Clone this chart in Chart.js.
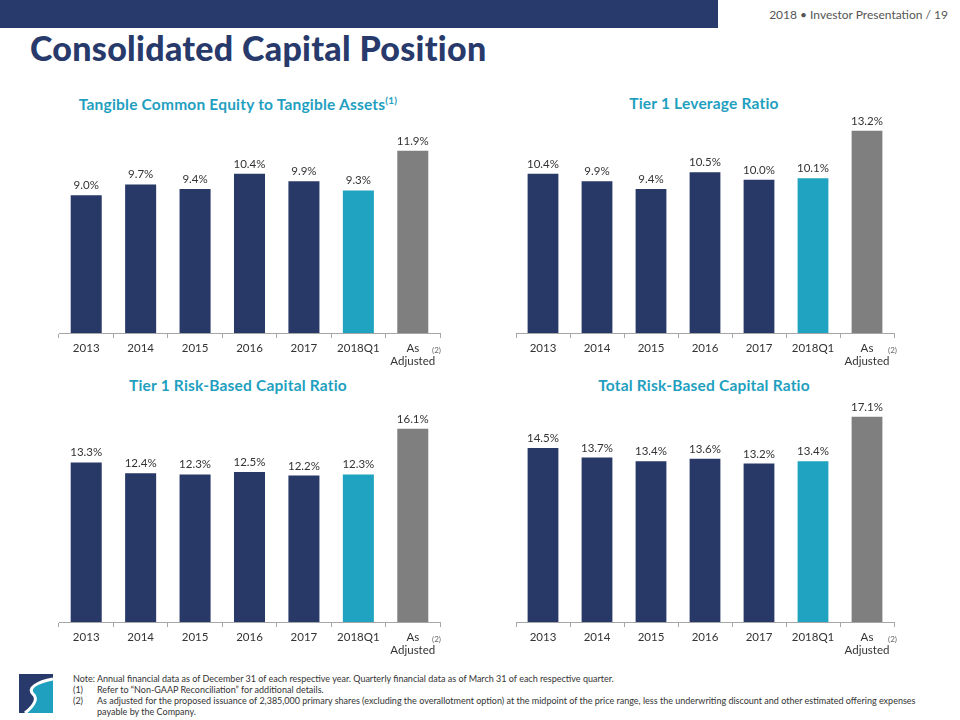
<!DOCTYPE html>
<html>
<head>
<meta charset="utf-8">
<script src="https://cdn.jsdelivr.net/npm/chart.js@4.4.1/dist/chart.umd.min.js"></script>
<style>
  body { margin: 0; background: #fff; font-family: 'Lato', 'Noto Sans', sans-serif; }
  #page { position: relative; width: 960px; height: 720px; overflow: hidden; }
  .abs { position: absolute; }
  #topbar { left: 0; top: 0; width: 718px; height: 28px; background: #283a6b; }
  #pagenum { right: 12px; top: 7px; font-size: 12px; color: #555; }
  #title { left: 30px; top: 27px; font-size: 34px; font-weight: 900; color: #283a6b; letter-spacing: 0.3px; }
  .ctitle { font-size: 15.5px; font-weight: 700; color: #1fa0bf; text-align: center; width: 420px; letter-spacing: 0.2px; }
  .ctitle sup { font-size: 10px; }
  .box { position: absolute; }
  .note2 { font-size: 8px; color: #666; }
  #notes { left: 73px; top: 673px; font-size: 9px; color: #333; line-height: 11px; }
  #notes .n { display: inline-block; width: 24px; }
  #notes .ind { padding-left: 24px; }
</style>
</head>
<body>
<div id="page">
  <div id="topbar" class="abs"></div>
  <div id="pagenum" class="abs">2018 &bull; Investor Presentation / 19</div>
  <div id="title" class="abs">Consolidated Capital Position</div>

  <div class="abs ctitle" style="left:28px; top:94px;">Tangible Common Equity to Tangible Assets<sup>(1)</sup></div>
  <div class="abs ctitle" style="left:494px; top:94px;">Tier 1 Leverage Ratio</div>
  <div class="abs ctitle" style="left:28px; top:376px;">Tier 1 Risk-Based Capital Ratio</div>
  <div class="abs ctitle" style="left:494px; top:376px;">Total Risk-Based Capital Ratio</div>

  <div class="box" style="left:40px; top:100px; width:410px; height:270px;"><canvas id="tce-chart"></canvas></div>
  <div class="box" style="left:497px; top:100px; width:410px; height:270px;"><canvas id="lev-chart"></canvas></div>
  <div class="box" style="left:40px; top:395px; width:410px; height:264px;"><canvas id="t1rb-chart"></canvas></div>
  <div class="box" style="left:497px; top:395px; width:410px; height:264px;"><canvas id="trb-chart"></canvas></div>

  <div class="abs note2" style="left:432px; top:345px;">(2)</div>
  <div class="abs note2" style="left:888px; top:345px;">(2)</div>
  <div class="abs note2" style="left:432px; top:634px;">(2)</div>
  <div class="abs note2" style="left:888px; top:634px;">(2)</div>

  <!-- logo -->
  <svg class="abs" style="left:19px; top:674px;" width="34" height="39" viewBox="0 0 34 39">
    <rect x="0" y="0" width="34" height="39" fill="#283a6b"/>
    <path d="M34 5 C18 8 8 14 14 20 C19 24 16 31 6 39 L34 39 Z" fill="#1fa0bf"/>
    <path d="M34 5 C18 8 8 14 14 20 C19 24 16 31 6 39" fill="none" stroke="#fff" stroke-width="3"/>
  </svg>

  <div id="notes" class="abs">
    <div>Note: Annual financial data as of December 31 of each respective year. Quarterly financial data as of March 31 of each respective quarter.</div>
    <div><span class="n">(1)</span>Refer to &ldquo;Non-GAAP Reconciliation&rdquo; for additional details.</div>
    <div><span class="n">(2)</span>As adjusted for the proposed issuance of 2,385,000 primary shares (excluding the overallotment option) at the midpoint of the price range, less the underwriting discount and other estimated offering expenses</div>
    <div class="ind">payable by the Company.</div>
  </div>
</div>

<script>
const periods = ['2013', '2014', '2015', '2016', '2017', '2018Q1', ['As', 'Adjusted']];
const tceRatio = [9.0, 9.7, 9.4, 10.4, 9.9, 9.3, 11.9];
const tier1Leverage = [10.4, 9.9, 9.4, 10.5, 10.0, 10.1, 13.2];
const tier1RiskBased = [13.3, 12.4, 12.3, 12.5, 12.2, 12.3, 16.1];
const totalRiskBased = [14.5, 13.7, 13.4, 13.6, 13.2, 13.4, 17.1];

const NAVY = '#283867', TEAL = '#1fa3c0', GRAY = '#7f7f7f';
const barColors = [NAVY, NAVY, NAVY, NAVY, NAVY, TEAL, GRAY];

// value labels above each bar
const valueLabels = {
    id: 'valueLabels',
    afterDatasetsDraw(chart) {
        const ctx = chart.ctx;
        const ds = chart.data.datasets[0];
        chart.getDatasetMeta(0).data.forEach((bar, i) => {
            ctx.save();
            ctx.font = '11.5px Lato, "Noto Sans", sans-serif';
            ctx.fillStyle = '#333';
            ctx.textAlign = 'center';
            ctx.textBaseline = 'bottom';
            ctx.fillText(ds.data[i].toFixed(1) + '%', bar.x, bar.y - 4);
            ctx.restore();
        });
    }
};

function renderBarChart(id, values, yMax, padTop, padRight) {
    const ctx = document.getElementById(id).getContext('2d');
    return new Chart(ctx, {
        type: 'bar',
        data: {
            labels: periods,
            datasets: [{ data: values, backgroundColor: barColors, barPercentage: 0.57, categoryPercentage: 1 }]
        },
        options: {
            responsive: true,
            maintainAspectRatio: false,
            animation: false,
            layout: { padding: { top: padTop, left: 19, right: padRight, bottom: 0 } },
            plugins: { legend: { display: false }, tooltip: { enabled: false } },
            scales: {
                x: {
                    grid: { display: true, drawOnChartArea: false, drawTicks: true, tickLength: 5, color: '#a6a6a6' },
                    border: { display: true, color: '#a6a6a6', width: 1 },
                    ticks: { color: '#333', font: { size: 11.5, family: 'Lato, "Noto Sans", sans-serif' }, padding: 3, maxRotation: 0 },
                    afterFit: scale => { scale.height = 37; }
                },
                y: { display: false, min: 0, max: yMax }
            }
        },
        plugins: [valueLabels]
    });
}

renderBarChart('tce-chart', tceRatio, 14.1, 17, 10);
renderBarChart('lev-chart', tier1Leverage, 14.1, 17, 13);
renderBarChart('t1rb-chart', tier1RiskBased, 18, 11, 10);
renderBarChart('trb-chart', totalRiskBased, 18, 11, 13);
</script>
</body>
</html>
